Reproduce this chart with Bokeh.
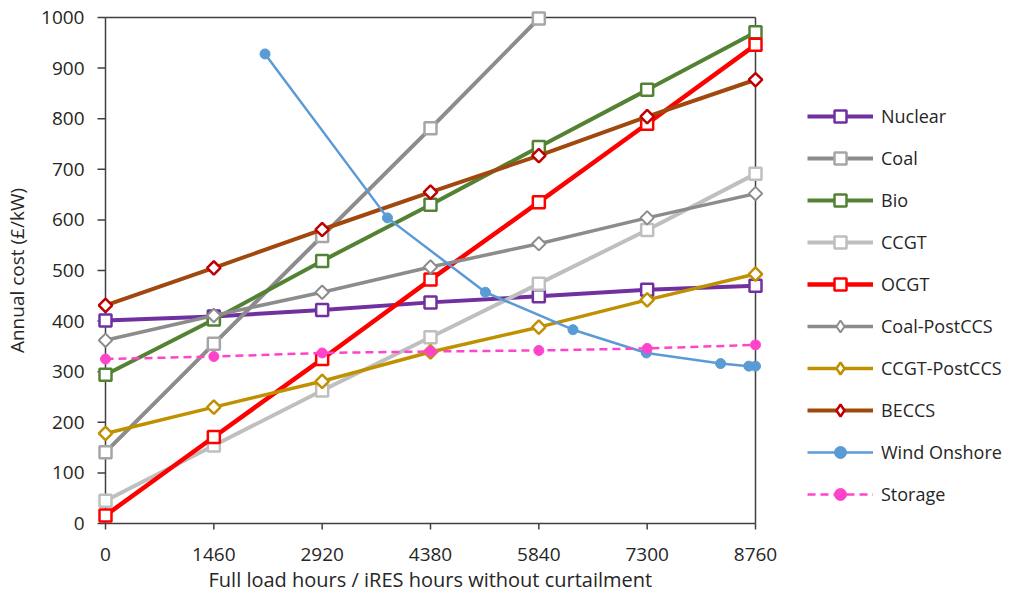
import numpy as np
from bokeh.plotting import figure
from bokeh.models import Range1d, FixedTicker, Legend, LegendItem, Title
from bokeh.embed import file_html
from bokeh.resources import INLINE

# Full-load hours on the x axis (0 .. 8760 h per year)
hours = [0, 1460, 2920, 4380, 5840, 7300, 8760]
x_ticks = [0, 1460, 2920, 4380, 5840, 7300, 8760]
y_ticks = [0, 100, 200, 300, 400, 500, 600, 700, 800, 900, 1000]

# Annual cost (GBP/kW) per technology
nuclear = [401, 409, 422, 437, 449, 462, 470]
coal_hours = [0, 1460, 2920, 4380, 5840]
coal = [141, 355, 568, 781, 998]
bio = [294, 403, 519, 630, 744, 857, 971]
ccgt = [45, 154, 263, 368, 474, 580, 691]
ocgt = [16, 171, 325, 482, 635, 790, 946]
coal_postccs = [362, 411, 457, 507, 553, 604, 652]
ccgt_postccs = [178, 230, 281, 339, 388, 442, 493]
beccs = [431, 505, 581, 655, 727, 804, 877]
wind_hours = [2150, 3800, 5120, 6300, 7290, 8290, 8670, 8760]
wind_onshore = [928, 604, 457, 383, 337, 316, 311, 311]
storage = [325, 330, 337, 340, 342, 346, 353]

FONT = "Open Sans"
TEXT = "#262626"
AXIS = "#404040"

X_MAX = x_ticks[-1]
Y_MAX = y_ticks[-1]
# data units per screen pixel; the frame reaches past the data box on every
# side so edge markers stay whole and the legend can sit inside it
XPX = X_MAX / 650
YPX = Y_MAX / 506

p = figure(width=1011, height=602,
           x_range=Range1d(-10 * XPX, X_MAX + 251 * XPX),
           y_range=Range1d(-10 * YPX, Y_MAX + 10 * YPX),
           output_backend="svg", toolbar_location=None,
           min_border_left=95, min_border_right=5,
           min_border_top=7, min_border_bottom=69)
p.outline_line_color = None
p.grid.visible = False
p.background_fill_color = "white"

# axes carry only the labels; their rules and ticks are drawn in data space
for ax, ticks in ((p.xaxis, x_ticks), (p.yaxis, y_ticks)):
    ax.ticker = FixedTicker(ticks=ticks)
    ax.axis_line_color = None
    ax.major_tick_line_color = None
    ax.minor_tick_line_color = None
    ax.major_tick_in = 0
    ax.major_tick_out = 0
    ax.major_label_text_font = FONT
    ax.major_label_text_font_size = "19px"
    ax.major_label_text_color = TEXT
    ax.axis_label_text_font = FONT
    ax.axis_label_text_font_size = "19px"
    ax.axis_label_text_font_style = "normal"
    ax.axis_label_text_color = TEXT

p.xaxis.major_label_standoff = 14
p.yaxis.major_label_standoff = 11
p.yaxis.axis_label = "Annual cost (£/kW)"
p.yaxis.axis_label_standoff = 8

# x axis title, centred under the data box rather than the whole frame
p.add_layout(Title(text="Full load hours / iRES hours without curtailment",
                   align="left", offset=113, standoff=0,
                   text_font=FONT, text_font_size="20px",
                   text_font_style="normal", text_color=TEXT), "below")

# box around the data area
p.segment(x0=[0, 0, 0, X_MAX], y0=[0, 0, Y_MAX, 0],
          x1=[X_MAX, 0, X_MAX, X_MAX], y1=[0, Y_MAX, Y_MAX, Y_MAX],
          line_color=AXIS, line_width=1.5)
# outward tick marks
p.segment(x0=[-8 * XPX] * len(y_ticks), y0=y_ticks, x1=[0] * len(y_ticks), y1=y_ticks,
          line_color=AXIS, line_width=1.5)
p.segment(x0=x_ticks, y0=[-6 * YPX] * len(x_ticks), x1=x_ticks, y1=[0] * len(x_ticks),
          line_color=AXIS, line_width=1.5)

items = []


def series(name, xs, ys, color, lw, marker, msize, mline, mcolor=None,
           mfill="white", dash="solid", angle=0.0):
    line = p.line(xs, ys, line_color=color, line_width=lw, line_dash=dash)
    mk = p.scatter(xs, ys, marker=marker, size=msize, angle=angle,
                   line_color=mcolor or color, line_width=mline,
                   fill_color=mfill)
    key = mk
    if angle:
        # legend swatch: an upright diamond (the legend ignores marker angle)
        key = p.scatter(xs, ys, marker="diamond", size=msize, visible=False,
                        line_color=mcolor or color, line_width=mline,
                        fill_color=mfill)
    items.append(LegendItem(label=name, renderers=[line, key]))


diamond = dict(marker="square", angle=np.pi / 4)

series("Nuclear", hours, nuclear, "#7030A0", 4, "square", 12, 2.5)
series("Coal", coal_hours, coal, "#8C8C8C", 4, "square", 12, 2.5, mcolor="#A6A6A6")
series("Bio", hours, bio, "#548235", 4, "square", 12, 2.5)
series("CCGT", hours, ccgt, "#BFBFBF", 4, "square", 12, 2.5)
series("OCGT", hours, ocgt, "#FF0000", 4.5, "square", 12, 2.5)
series("Coal-PostCCS", hours, coal_postccs, "#8C8C8C", 3.5, msize=9.5, mline=2, **diamond)
series("CCGT-PostCCS", hours, ccgt_postccs, "#BF9000", 3.5, msize=9.5, mline=2.5, **diamond)
series("BECCS", hours, beccs, "#A0480E", 4, msize=9.5, mline=2.5, mcolor="#C00000", **diamond)
series("Wind Onshore", wind_hours, wind_onshore, "#5B9BD5", 2.5, "circle", 10, 1,
       mfill="#5B9BD5")
series("Storage", hours, storage, "#FF44CC", 2.5, "circle", 10, 1,
       mfill="#FF44CC", dash="8 5")

legend = Legend(items=items, location=(712, 24), orientation="vertical",
                glyph_width=66, glyph_height=30, label_height=20,
                spacing=12, padding=0, margin=0, label_standoff=8,
                label_text_font=FONT, label_text_font_size="18px",
                label_text_color=TEXT, border_line_color=None,
                background_fill_alpha=0)
p.add_layout(legend, "center")

open("out.html", "w").write(file_html(p, INLINE))
